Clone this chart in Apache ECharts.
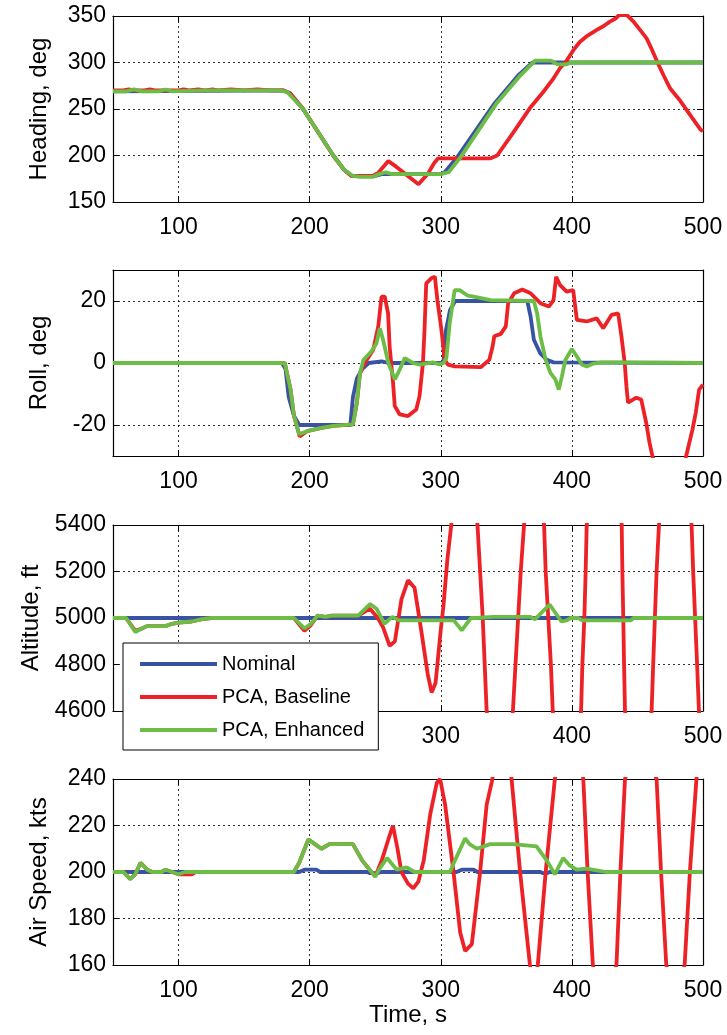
<!DOCTYPE html>
<html><head><meta charset="utf-8">
<script src="https://cdn.jsdelivr.net/npm/echarts@6/dist/echarts.min.js"></script>
<style>html,body{margin:0;padding:0;background:#fff}#c{width:727px;height:1035px}</style>
</head><body><div id="c"></div>
<script>
// ---------- data ----------
const seriesNames = ['Nominal', 'PCA, Baseline', 'PCA, Enhanced'];
const xTicks = [100, 200, 300, 400, 500];
const headingTicks = [150, 200, 250, 300, 350];
const rollTicks = [-20, 0, 20];
const altitudeTicks = [4600, 4800, 5000, 5200, 5400];
const speedTicks = [160, 180, 200, 220, 240];

const headingNominal = [[50,269],[180,270],[185,267],[195,250],[218,200],[226,185],[232,178],[250,178],[255,180],[300,180],[303,182],[313,199],[341,256],[359,286],[370,300],[500,300]];
const headingBaseline = [[50,270],[58,270],[62,271],[66,270],[74,270],[78,271],[82,270],[100,270],[104,271],[108,270],[115,271],[120,270],[126,271],[130,270],[140,271],[150,270],[160,271],[170,270],[180,270],[185,267],[195,250],[218,200],[226,185],[232,178],[248,178],[252,181],[260,194],[266,188],[273,180],[283,169],[290,180],[295,192],[298,197],[302,197],[338,197],[343,200],[355,224],[368,251],[378,268],[386,283],[391,294],[396,302],[401,313],[406,322],[412,329],[419,335],[424,339],[429,344],[433,347],[436,351],[442,351],[447,344],[452,335],[457,326],[461,314],[465,301],[470,286],[475,272],[482,260],[490,244],[495,234],[498,228],[500,226]];
const headingEnhanced = [[50,269],[60,269],[66,271],[72,269],[85,269],[90,271],[95,269],[120,270],[178,270],[183,268],[195,250],[218,200],[226,185],[233,178],[238,177],[248,177],[253,180],[258,182],[263,180],[300,180],[306,182],[315,198],[342,255],[360,285],[372,302],[384,302],[389,298],[396,298],[399,300],[500,300]];

const rollNominal = [[50,0],[179,0],[181.6,-2],[184,-11],[188,-17],[192,-20],[231,-20],[233,-11],[236,-5],[240,-2],[245,0],[255,0.5],[260,0],[302,0],[304,10.7],[307,17],[311,20],[366,20],[368.5,15],[371,7.5],[376,3],[381,1],[386,0.2],[500,0]];
const rollBaseline = [[50,0],[181,0],[185.4,-8.5],[188,-17],[192.4,-23.7],[198,-22],[208,-21],[218,-20.3],[233,-19.8],[236,-12.8],[238.4,-3.2],[242,0],[248.5,4.3],[252.3,11.8],[254.8,21.4],[257.3,21.4],[259.8,16],[261,5.3],[263.6,-6.4],[264.9,-13.9],[268.7,-16.6],[275,-17.1],[281.3,-15],[283.8,-10.7],[286.4,0],[287.6,10.7],[288.9,25.7],[292.7,27.3],[295.5,27.8],[297.5,20],[300.5,10.7],[303,1],[305.5,-0.5],[310.6,-1.1],[330.7,-1.3],[337,1],[339.5,5.3],[340.8,8.6],[345.8,9.4],[349.6,11.8],[351.4,19.3],[356,22.5],[362.2,23.7],[368.5,22.5],[376,19.3],[382.4,18.2],[386,20.3],[388,27.8],[391,25.1],[396,23],[401,23.5],[403.8,13.9],[411.3,13.4],[418.9,14.4],[423.9,11.2],[430.2,15.5],[435.3,16],[437.8,8.6],[440.3,0],[441.6,-7.5],[442.8,-12.8],[449.1,-11.2],[452.9,-11.8],[456.7,-19.3],[459.2,-25.7],[461.7,-30.5],[468,-38],[475,-42],[482,-38],[486.9,-30.5],[492,-21.4],[494.5,-16],[497,-8.6],[500,-7]];
const rollEnhanced = [[50,0],[181,0],[185.4,-8.5],[188,-17],[192,-23],[198,-22],[208,-21],[218,-20.3],[233,-19.8],[236,-12.8],[238.4,-3.2],[241,1],[247,3.7],[251,6.4],[253.5,11.2],[256,7.5],[260,0],[265,-5.3],[268.7,-2.1],[272.5,1.6],[278.8,0],[283.8,-0.5],[294,0.2],[299,-0.5],[302,0],[304.3,1.6],[306.8,12.8],[310.6,23.5],[314.4,23.5],[320.7,21.7],[328,21.2],[338,20.3],[371,20],[373.5,16],[376,8.6],[380,1],[383.6,-3.2],[387.4,-5.3],[390,-8.6],[392.4,-4.3],[395,1],[400,4.5],[403.8,2.1],[407.6,-0.5],[411.3,-1.1],[416.4,-0.2],[422.7,0.2],[500,0]];

const altitudeNominal = [[50,5000],[500,5000]];
const altitudeBaseline = [[50,5000],[60,5000],[67,4945],[72,4955],[76,4965],[90,4965],[95,4975],[100,4980],[110,4985],[118,4995],[125,5000],[188,5000],[196,4945],[201,4970],[206,5010],[212,5005],[217,5010],[237,5010],[246,5040],[252,5000],[256,4960],[261,4880],[265,4900],[270,5080],[275,5162],[280,5130],[285,4950],[290,4760],[293,4680],[296,4720],[300,4950],[302,5050],[305,5250],[308,5400],[312,5700],[318,5800],[325,5600],[328,5400],[330,5200],[332,5000],[333.5,4800],[335,4600],[340,4300],[348,4200],[355,4600],[357,4800],[359,5000],[361,5200],[363.5,5400],[368,5700],[374,5600],[378.8,5400],[380,5200],[382,5000],[384,4800],[385.4,4600],[392,4300],[400,4300],[407,4600],[408,4800],[409.5,5000],[410.5,5200],[411.3,5400],[420,5800],[432,5700],[438,5400],[438.5,5200],[439.2,5000],[439.8,4800],[440.5,4600],[450,4300],[456,4300],[460.8,4600],[462,4800],[463.3,5000],[464.6,5200],[466.4,5400],[475,5800],[485,5700],[491.3,5400],[492.5,5200],[494,5000],[495.5,4800],[496.9,4600],[500,4400]];
const altitudeEnhanced = [[50,5000],[60,5000],[67,4940],[72,4955],[76,4965],[90,4965],[95,4975],[100,4980],[110,4985],[118,4995],[125,5000],[188,5000],[196,4955],[201,4975],[206,5010],[212,5005],[217,5010],[237,5010],[246,5060],[251,5040],[257,4975],[263,5005],[268,4990],[310,4990],[316,4947],[323,5000],[327,5000],[340,5005],[368,5005],[372,4995],[383,5058],[392,4985],[396,4990],[399,5000],[405,5000],[407.5,4990],[445,4990],[447,5000],[500,5000]];

const speedNominal = [[50,200],[192,200],[196,201],[205,201],[208,200],[244,200],[246,199.5],[252,199.5],[254,200],[312,200],[316,201],[325,201],[328,200],[376,200],[378,199.5],[381,199.5],[383,200],[500,200]];
const speedBaseline = [[50,200],[58,200],[63,197],[67,199],[71,204],[76,201],[80,200],[87,200],[90,201],[95,200],[100,199],[105,199],[110,199],[113,200],[188,200],[192,204],[199,214],[204,212],[209,210],[215,212],[222,212],[233,212],[240,205],[250,198],[255,205],[260,214],[263.5,220],[267,210],[270,200],[275,195],[279,193],[283,196],[287,205],[292,225],[297,238.4],[299.5,240],[303.3,229],[309.7,200],[314.8,174],[318.6,166],[323.7,169],[330,200],[335,229],[339,239],[344,255],[350,255],[354,240],[360.5,200],[368,160],[371,150],[374,160],[380,200],[387,240],[395,258],[403,258],[408.7,240],[412,200],[416,160],[425,142],[434,160],[437,200],[440.5,240],[452,258],[464.6,240],[468,200],[472,160],[479,145],[486,160],[490,200],[495,240],[500,260]];
const speedEnhanced = [[50,200],[58,200],[63,197],[67,199],[71,204],[76,201],[80,200],[87,200],[90,201],[95,200],[100,199],[105,200],[112,200],[188,200],[192,204],[199,214],[204,212],[209,210],[215,212],[222,212],[233,212],[240,205],[250,198],[254,202],[259,206],[262,204],[266.5,201],[274,202],[280,200],[307,200],[310,204],[318.6,214.5],[322,212],[327.5,210],[337.6,212],[355,212],[373,211],[380.8,205],[387,199],[393.3,206],[398,203],[403.7,201],[411,201.5],[421,200.5],[426,200],[500,200]];

// ---------- chart ----------
const colors = ['#3953a4', '#ec2227', '#6cbd45'];
const FONT = 'Liberation Sans';
const TICK_FS = 23, NAME_FS = 24;
const panels = [
  {name: 'Heading, deg', min: 150, max: 350, ticks: headingTicks, gap: 62, data: [headingNominal, headingBaseline, headingEnhanced]},
  {name: 'Roll, deg', min: -30, max: 30, ticks: rollTicks, gap: 62, data: [rollNominal, rollBaseline, rollEnhanced]},
  {name: 'Altitude, ft', min: 4600, max: 5400, ticks: altitudeTicks, gap: 70, data: [altitudeNominal, altitudeBaseline, altitudeEnhanced]},
  {name: 'Air Speed, kts', min: 160, max: 240, ticks: speedTicks, gap: 62, data: [speedNominal, speedBaseline, speedEnhanced]}
];
const tops = [16, 270, 525, 779];
const H = 186;
const plain = v => String(v);

const grid = [], xAxis = [], yAxis = [], series = [];
const gridLine = {show: true, lineStyle: {color: '#000', width: 0.8, type: [2, 3]}};
panels.forEach((p, i) => {
  grid.push({left: 113, width: 590, top: tops[i], height: H, show: false});
  xAxis.push({
    type: 'value', gridIndex: i, min: 50, max: 500,
    name: i === 3 ? 'Time, s' : '', nameLocation: 'middle', nameGap: 33,
    nameTextStyle: {fontFamily: FONT, fontSize: NAME_FS, color: '#000'},
    axisLine: {show: true, onZero: false, lineStyle: {color: '#000', width: 1.2}},
    axisTick: {show: true, inside: true, length: 6, customValues: xTicks, lineStyle: {color: '#000'}},
    axisLabel: {show: true, customValues: xTicks, margin: 14, fontFamily: FONT, fontSize: TICK_FS, color: '#000', formatter: plain},
    splitLine: gridLine
  });
  xAxis.push({
    type: 'value', gridIndex: i, min: 50, max: 500, position: 'top',
    axisLine: {show: true, onZero: false, lineStyle: {color: '#000', width: 1.2}},
    axisTick: {show: true, inside: true, length: 6, customValues: xTicks, lineStyle: {color: '#000'}},
    axisLabel: {show: false}, splitLine: {show: false}
  });
  yAxis.push({
    type: 'value', gridIndex: i, min: p.min, max: p.max,
    name: p.name, nameLocation: 'middle', nameGap: p.gap, nameRotate: 90,
    nameTextStyle: {fontFamily: FONT, fontSize: NAME_FS, color: '#000'},
    axisLine: {show: true, onZero: false, lineStyle: {color: '#000', width: 1.2}},
    axisTick: {show: true, inside: true, length: 6, customValues: p.ticks, lineStyle: {color: '#000'}},
    axisLabel: {show: true, customValues: p.ticks, margin: 7, fontFamily: FONT, fontSize: TICK_FS, color: '#000', formatter: plain},
    splitLine: gridLine
  });
  yAxis.push({
    type: 'value', gridIndex: i, min: p.min, max: p.max, position: 'right',
    axisLine: {show: true, onZero: false, lineStyle: {color: '#000', width: 1.2}},
    axisTick: {show: true, inside: true, length: 6, customValues: p.ticks, lineStyle: {color: '#000'}},
    axisLabel: {show: false}, splitLine: {show: false}
  });
  p.data.forEach((d, k) => {
    series.push({
      type: 'line', name: seriesNames[k], xAxisIndex: 2 * i, yAxisIndex: 2 * i,
      data: d, showSymbol: false, symbol: 'none', clip: true, animation: false,
      lineStyle: {color: colors[k], width: 3.8}, itemStyle: {color: colors[k]}, z: 2 + k
    });
  });
});

const chart = echarts.init(document.getElementById('c'), null, {renderer: 'canvas'});
chart.setOption({
  animation: false,
  backgroundColor: '#fff',
  grid, xAxis, yAxis, series,
  legend: {
    data: seriesNames, orient: 'vertical', left: 123, top: 643,
    itemWidth: 77, itemHeight: 4, icon: 'rect', itemGap: 13,
    padding: [11, 14, 10, 17],
    backgroundColor: '#fff', borderColor: '#000', borderWidth: 1,
    textStyle: {fontFamily: FONT, fontSize: 20, color: '#000'},
    selectedMode: false
  }
});
</script></body></html>
